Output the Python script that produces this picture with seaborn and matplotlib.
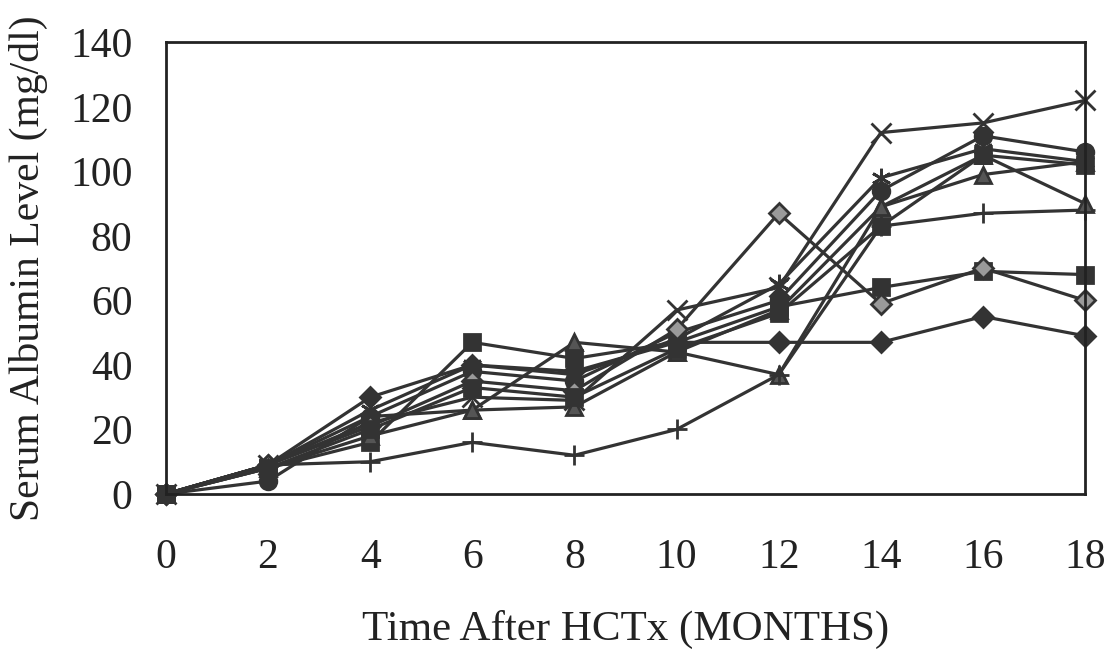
import matplotlib
matplotlib.use("Agg")
import matplotlib.pyplot as plt
import seaborn as sns
import pandas as pd

months = [0, 2, 4, 6, 8, 10, 12, 14, 16, 18]
s_diamond = [0, 9, 30, 40, 38, 47, 47, 47, 55, 49]
s_square = [0, 8, 16, 47, 42, 47, 58, 64, 69, 68]
s_triangle = [0, 9, 24, 26, 47, 44, 37, 89, 99, 103]
s_x = [0, 9, 22, 30, 29, 57, 64, 112, 115, 122]
s_star = [0, 9, 26, 40, 37, 48, 65, 98, 107, 103]
s_circle = [0, 4, 24, 38, 35, 50, 60, 94, 111, 106]
s_plus = [0, 9, 10, 16, 12, 20, 37, 83, 87, 88]
s_dotdiamond = [0, 9, 21, 35, 32, 51, 87, 59, 70, 60]
s_triangle2 = [0, 8, 18, 26, 27, 44, 57, 89, 105, 90]
s_square2 = [0, 8, 20, 33, 30, 45, 56, 83, 105, 102]

series = {
    "A": s_diamond, "B": s_square, "C": s_triangle, "D": s_x, "E": s_star,
    "F": s_circle, "G": s_plus, "H": s_dotdiamond, "I": s_triangle2, "J": s_square2,
}
rows = []
for name, vals in series.items():
    for m, v in zip(months, vals):
        rows.append({"month": m, "value": v, "series": name})
df = pd.DataFrame(rows)

sns.set_theme(style="white")
plt.rcParams["font.family"] = ["Liberation Serif", "DejaVu Serif"]

fig = plt.figure(figsize=(11.13, 6.5), dpi=100)
ax = fig.add_axes([0.149, 0.24, 0.826, 0.695])

col = "#333333"
markers = {"A": "D", "B": "s", "C": "^", "D": "x", "E": (6, 2, 0), "F": "o",
           "G": "+", "H": "D", "I": "^", "J": "s"}
faces = {"C": "#555555", "I": "#555555", "H": "#9a9a9a"}
sizes = {"A": 10, "B": 12, "C": 12, "D": 14, "E": 14, "F": 12, "G": 15,
         "H": 10, "I": 12, "J": 12}
for name in series:
    sub = df[df["series"] == name]
    sns.lineplot(data=sub, x="month", y="value", color=col, ax=ax,
                 marker=markers[name], markersize=sizes[name],
                 markerfacecolor=faces.get(name, col), markeredgecolor=col,
                 markeredgewidth=2, linewidth=2.3, clip_on=False, legend=False)

ax.set_xlim(0, 18)
ax.set_ylim(0, 140)
ax.set_xticks(months)
ax.set_yticks(range(0, 141, 20))
ax.tick_params(axis="both", direction="in", length=8, width=1.5, colors="#222222",
               labelsize=30, labelcolor="#222222")
ax.tick_params(axis="x", pad=32)
ax.tick_params(axis="y", pad=24)
for sp in ax.spines.values():
    sp.set_color("#222222")
    sp.set_linewidth(2)
ax.set_xlabel("Time After HCTx (MONTHS)", fontsize=31, color="#222222", labelpad=24)
ax.set_ylabel("Serum Albumin Level (mg/dl)", fontsize=30, color="#222222", labelpad=16)

fig.savefig("out.png", dpi=100, facecolor="white")
